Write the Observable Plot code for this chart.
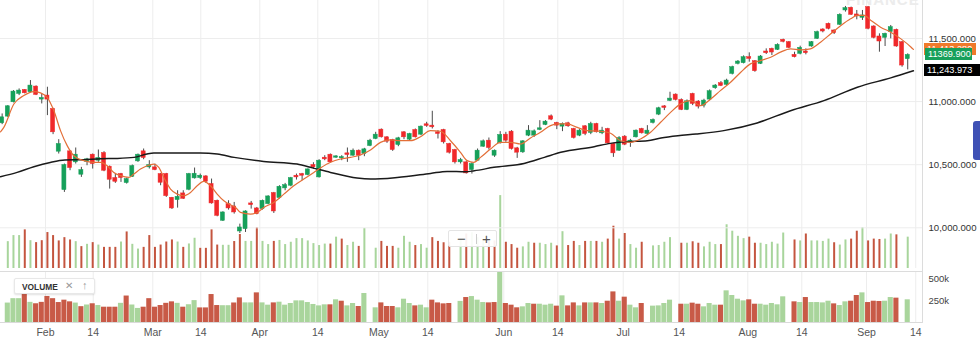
<!DOCTYPE html>
<html><head><meta charset="utf-8">
<script src="https://cdn.jsdelivr.net/npm/d3@7"></script>
<script src="https://cdn.jsdelivr.net/npm/@observablehq/plot@0.6"></script>
<style>
body{margin:0;background:#fff;}
#chart{position:relative;width:980px;height:352px;overflow:hidden;font-family:"Liberation Sans",Arial,sans-serif;}
#chart svg{position:absolute;left:0;}
.badge{position:absolute;height:12px;line-height:12px;font-size:9.2px;color:#fff;padding-left:3px;box-sizing:border-box;white-space:nowrap;overflow:hidden;}
.volpanel [aria-label^="y-axis"] text{font-size:9.5px;fill:#444;}
</style></head><body><div id="chart"></div>
<script>
// ---- data (NIFTY 50 daily, index = trading day) ----
const opens = [10828.0,10880.9,10994.7,11060.8,11092.6,11074.1,11119.0,11015.9,11047.6,10941.8,10603.1,10298.9,10605.8,10518.5,10420.6,10521.1,10579.3,10531.7,10592.5,10484.1,10394.1,10425.9,10354.4,10404.7,10526.4,10605.8,10478.8,10478.8,10425.9,10425.9,10238.0,10219.5,10272.4,10301.5,10391.5,10394.1,10407.3,10346.5,10214.2,10055.5,10187.7,10169.2,9970.8,9989.3,10193.0,10153.4,10148.1,10187.7,10275.1,10235.4,10312.1,10333.3,10412.6,10425.9,10418.0,10497.3,10399.4,10555.5,10579.3,10555.5,10550.2,10589.9,10571.4,10611.1,10584.6,10648.1,10703.7,10777.7,10716.9,10695.7,10656.0,10756.6,10698.4,10775.1,10738.1,10820.1,10809.5,10756.6,10775.1,10664.0,10616.4,10518.5,10518.5,10457.6,10531.7,10642.8,10690.4,10571.4,10669.3,10738.1,10761.9,10629.6,10597.8,10730.1,10730.1,10775.1,10814.8,10883.6,10830.7,10801.6,10828.0,10783.0,10730.1,10804.2,10751.3,10822.7,10748.6,10783.0,10664.0,10611.1,10722.2,10677.2,10716.9,10783.0,10743.3,10830.7,10896.8,10962.0,11005.3,11055.5,11013.2,10933.8,11060.8,11000.0,10968.2,11015.8,11105.8,11145.5,11132.3,11219.5,11298.9,11304.2,11351.8,11320.1,11298.9,11396.8,11418.0,11410.0,11489.4,11470.9,11370.4,11378.3,11396.8,11436.5,11497.3,11571.4,11616.4,11563.5,11608.5,11722.2,11743.4,11690.5,11664.0,11748.7,11595.2,11515.9,11505.3,11550.3,11568.8,11470.9,11336.0,11369.9];
const highs = [10902.1,10968.2,11087.3,11100.5,11095.2,11166.7,11124.3,11060.8,11113.7,10947.1,10698.4,10505.2,10611.1,10632.2,10478.8,10550.2,10584.6,10616.4,10603.1,10489.4,10425.9,10431.2,10394.1,10497.3,10584.6,10624.3,10531.7,10505.2,10431.2,10431.2,10240.7,10293.6,10293.6,10431.2,10473.5,10425.9,10412.6,10386.2,10219.5,10126.9,10214.2,10201.0,10029.0,10134.8,10208.9,10161.3,10219.5,10253.9,10280.4,10333.3,10351.8,10399.4,10425.9,10431.2,10465.5,10515.8,10539.6,10571.4,10584.6,10571.4,10571.4,10632.2,10624.3,10616.4,10629.6,10701.0,10756.6,10783.0,10722.2,10701.0,10716.9,10761.9,10748.6,10783.0,10806.8,10836.0,10923.3,10769.8,10780.4,10669.3,10621.6,10550.2,10523.8,10515.8,10624.3,10695.7,10711.6,10616.4,10761.9,10756.6,10769.8,10637.5,10690.4,10809.5,10775.1,10849.1,10849.1,10894.2,10836.0,10830.7,10836.0,10788.3,10777.7,10809.5,10836.0,10828.0,10796.3,10788.3,10669.3,10722.2,10730.1,10701.0,10775.1,10788.3,10809.5,10862.4,10955.0,10968.2,11074.1,11060.8,11021.2,11013.2,11066.1,11007.9,11018.5,11092.5,11134.9,11158.7,11177.2,11280.4,11325.4,11362.4,11386.2,11325.4,11365.1,11418.0,11423.3,11457.7,11494.7,11476.2,11391.5,11439.1,11418.0,11476.2,11558.2,11576.7,11621.7,11568.8,11695.8,11754.0,11748.7,11722.2,11722.2,11754.0,11600.5,11537.0,11542.3,11603.2,11574.1,11476.2,11378.3,11369.9];
const lows = [10817.4,10875.6,10989.4,11047.6,11060.8,11068.8,11047.6,10981.5,10888.9,10738.1,10584.6,10280.4,10452.3,10505.2,10399.4,10492.0,10465.5,10518.5,10444.4,10306.8,10351.8,10359.7,10346.5,10399.4,10518.5,10539.6,10465.5,10452.3,10333.3,10240.7,10145.4,10156.0,10224.8,10293.6,10386.2,10383.5,10351.8,10187.7,10087.2,10050.2,10140.1,10108.4,9955.0,9962.9,10148.1,10103.1,10140.1,10182.4,10113.6,10227.4,10293.6,10325.4,10378.3,10373.0,10412.6,10462.9,10394.1,10531.7,10513.2,10550.2,10531.7,10518.5,10566.1,10531.7,10563.4,10642.8,10698.4,10711.6,10669.3,10605.8,10642.8,10698.4,10690.4,10711.6,10730.1,10796.3,10783.0,10703.7,10664.0,10584.6,10505.2,10505.2,10425.9,10425.9,10526.4,10637.5,10616.4,10558.1,10664.0,10677.2,10616.4,10550.2,10589.9,10722.2,10716.9,10769.8,10809.5,10849.1,10777.7,10761.9,10796.3,10703.7,10722.2,10730.1,10738.1,10751.3,10738.1,10664.0,10558.1,10605.8,10650.8,10637.5,10711.6,10743.3,10735.4,10822.7,10888.9,10928.6,11000.0,11005.3,10928.6,10928.6,10968.2,10941.7,10949.7,11007.9,11097.8,11119.0,11124.3,11211.6,11291.0,11298.9,11312.1,11232.8,11293.6,11373.0,11365.1,11404.7,11465.6,11420.6,11346.5,11370.4,11370.4,11431.2,11492.1,11545.0,11568.8,11531.7,11603.2,11709.0,11682.5,11648.1,11642.9,11568.8,11497.3,11391.5,11436.5,11497.3,11431.2,11272.5,11251.3,11369.9];
const closes = [10875.6,10962.9,11079.3,11087.3,11066.1,11127.0,11052.9,11029.1,11015.9,10756.6,10664.0,10497.3,10473.5,10579.3,10457.6,10542.3,10505.2,10552.9,10452.3,10380.9,10365.0,10394.1,10386.2,10489.4,10579.3,10552.9,10497.3,10457.6,10357.1,10251.3,10153.4,10246.0,10230.1,10425.9,10428.5,10412.6,10365.0,10193.0,10095.2,10121.6,10153.4,10121.6,10002.6,10129.5,10179.8,10108.4,10214.2,10248.6,10129.5,10325.4,10338.6,10394.1,10399.4,10412.6,10462.9,10478.8,10531.7,10542.3,10518.5,10566.1,10560.8,10576.7,10611.1,10571.4,10621.6,10690.4,10738.1,10716.9,10682.5,10616.4,10709.0,10716.9,10743.3,10716.9,10801.6,10806.8,10796.3,10743.3,10677.2,10595.2,10518.5,10537.0,10431.2,10505.2,10611.1,10685.1,10632.2,10611.1,10735.4,10690.4,10624.3,10595.2,10685.1,10769.8,10764.5,10788.3,10841.2,10857.1,10809.5,10822.7,10804.2,10711.6,10769.8,10743.3,10822.7,10756.6,10769.8,10669.3,10589.9,10711.6,10658.7,10690.4,10769.8,10748.6,10769.8,10854.5,10947.1,10950.0,11023.8,11013.2,10933.8,11002.6,10981.5,10960.3,11007.9,11082.0,11127.0,11124.3,11166.6,11272.5,11317.4,11351.8,11338.6,11240.7,11357.1,11383.6,11388.9,11449.7,11473.5,11425.9,11351.8,11425.9,11383.6,11470.9,11550.3,11555.5,11576.7,11542.3,11687.8,11740.7,11687.8,11674.6,11682.5,11576.7,11505.3,11476.2,11537.0,11589.9,11436.5,11285.7,11369.9,11369.9];
// volume in thousands (null = no bar)
const volumes = [null,221,271,271,318,229,213,229,296,271,227,254,235,221,180,199,213,193,174,174,174,218,301,199,160,174,271,174,193,218,235,218,174,202,249,166,166,318,193,191,191,222,280,223,223,337,223,197,223,231,197,216,246,246,227,205,189,201,201,258,242,189,216,182,330,null,167,223,182,182,167,265,216,189,197,167,254,223,212,216,null,240,284,295,254,227,223,227,600,216,197,167,178,216,208,208,197,208,186,303,189,223,189,223,223,223,216,242,348,242,288,197,167,216,null,186,189,216,254,null,208,208,220,208,178,216,197,197,360,307,265,246,258,208,208,197,216,201,292,null,235,227,284,227,227,223,242,212,193,235,242,307,337,227,242,239,242,284,277,null,258,null];
// long moving average (black), read at trading-day positions
const longMaIdx = [-0.3,2.65,5.6,8.5,11.1,14.4,17.4,20.3,23.3,25.6,26.8,29.2,35.0,38.0,41.0,46.2,52.1,55.0,58.0,62.7,65.1,69.8,75.7,78.6,81.9,83.4,86.9,92.2,95.8,98.7,104.6,107.5,110.5,114.0,116.4,119.4,122.6,127.5,133.4,139.3,145.2,151.1,157.0,161];
const longMaVal = [10405,10439,10484,10518,10537,10540,10548,10550,10558,10585,10592,10592,10592,10585,10558,10526,10505,10473,10439,10394,10386,10399,10431,10447,10444,10452,10479,10510,10558,10598,10643,10669,10682,10690,10712,10730,10743,10770,10831,10928,11008,11114,11188,11243.973];
// short moving average (orange)
const shortMaIdx = [-0.29,0.3,2.07,3.83,5.6,6.78,7.95,9.13,10.31,11.49,12.67,14.43,16.2,17.38,18.55,19.73,20.91,22.38,23.27,24.44,25.62,26.8,27.68,28.57,29.75,30.92,32.1,33.28,34.46,35.63,36.81,37.99,39.17,40.35,41.23,42.1,43.88,45.05,46.23,48.0,49.77,51.53,53.3,55.07,56.25,58.02,59.78,61.55,63.32,65.08,66.85,68.62,70.38,72.15,73.92,75.68,77.45,79.22,80.98,82.16,83.34,84.52,86.28,88.05,89.82,91.58,93.35,95.12,96.89,98.07,99.83,101.6,103.37,105.73,107.5,109.26,111.03,112.8,114.57,116.34,118.1,119.87,121.64,123.4,125.2,126.9,128.7,130.5,132.2,134.0,135.8,137.5,139.3,141.1,142.8,144.6,146.4,148.2,149.9,151.1,152.3,153.5,155.2,157.0,158.8,160.6,161.0];
const shortMaVal = [10760,10796,10981,11048,11079,11069,11034,10929,10770,10651,10571,10532,10518,10518,10492,10439,10413,10399,10426,10465,10492,10505,10479,10399,10307,10267,10254,10280,10333,10368,10333,10267,10214,10182,10161,10122,10108,10122,10161,10201,10267,10333,10386,10439,10474,10519,10545,10558,10577,10616,10677,10696,10690,10690,10722,10770,10765,10690,10598,10532,10519,10558,10624,10677,10677,10664,10712,10757,10810,10823,10823,10796,10770,10765,10749,10690,10677,10704,10757,10836,10915,10982,11008,10968,11021,11087,11153,11233,11299,11325,11352,11392,11418,11410,11418,11471,11537,11603,11656,11683,11683,11643,11590,11550,11497,11431,11413.28];
const tickPos = [7.66,16.09,26.62,35.10,45.52,55.77,66.55,75.20,88.63,98.17,109.73,119.62,131.74,141.28,152.72,161.42];
const tickLabels = ["Feb","14","Mar","14","Apr","14","May","14","Jun","14","Jul","14","Aug","14","Sep","14"];
const priceTicks = [10000,10500,11000,11500];
const volTicks = [250,500];
const lastPrice = 11369.9;

// ---- build ----
const candles = opens.map((o, i) => ({
  i, open: o, high: highs[i], low: lows[i], close: closes[i], vol: volumes[i],
  dir: closes[i] > o ? "up" : closes[i] < o ? "down" : "flat",
  volUp: i === 0 ? true : closes[i] >= closes[i - 1]
}));
const volBars = candles.filter(d => d.vol != null);
const longMa = longMaIdx.map((i, k) => ({i, v: longMaVal[k]}));
const shortMa = shortMaIdx.map((i, k) => ({i, v: shortMaVal[k]}));
const tickLabelMap = new Map(tickPos.map((p, k) => [p, tickLabels[k]]));
const candleColor = {up: "#16a05a", down: "#f0282a", flat: "#666"};
const xDomain = [-0.29, 162.61];
const font = '"Liberation Sans", Arial, Helvetica, sans-serif';
const chart = document.getElementById("chart");

const overlay = Plot.plot({
  width: 980, height: 268, marginLeft: 0, marginRight: 58, marginTop: 0, marginBottom: 0,
  x: {domain: xDomain, axis: null},
  y: {domain: [0, 2206], axis: null},
  color: {type: "identity"},
  style: {background: "transparent", overflow: "visible"},
  marks: [
    Plot.ruleX(tickPos, {stroke: "#ededed"}),
    Plot.ruleX(volBars, {x: "i", y1: 0, y2: "vol", stroke: d => d.volUp ? "#a8d59c" : "#c4553f", strokeWidth: 2})
  ]
});
overlay.style.top = "0px";
chart.appendChild(overlay);

const price = Plot.plot({
  width: 980, height: 271, marginLeft: 0, marginRight: 58, marginTop: 0, marginBottom: 0,
  x: {domain: xDomain, axis: null},
  y: {domain: [9653.7, 11801.1], axis: "right", ticks: priceTicks, tickFormat: d3.format(",.3f"), tickSize: 0, tickPadding: 6, label: null},
  color: {type: "identity"},
  style: {background: "transparent", overflow: "visible", fontFamily: font, fontSize: "9.6px", color: "#333"},
  marks: [
    Plot.ruleY(priceTicks, {stroke: "#ededed"}),
    Plot.ruleX(candles, {x: "i", y1: "low", y2: "high", stroke: "#4a4a4a", strokeWidth: 1}),
    Plot.rect(candles, {x1: d => d.i - 0.36, x2: d => d.i + 0.36, y1: "open", y2: "close",
      fill: d => candleColor[d.dir], stroke: d => candleColor[d.dir], strokeWidth: 0.5}),
    Plot.line(longMa, {x: "i", y: "v", stroke: "#1a1a1a", strokeWidth: 1.5, curve: "monotone-x"}),
    Plot.line(shortMa, {x: "i", y: "v", stroke: "#e36f38", strokeWidth: 1.2, curve: "monotone-x"})
  ]
});
price.style.top = "0px";
chart.appendChild(price);

const volPanel = Plot.plot({
  width: 980, height: 81, marginLeft: 0, marginRight: 58, marginTop: 0, marginBottom: 30,
  x: {domain: xDomain, ticks: tickPos, tickFormat: d => tickLabelMap.get(d), tickSize: 0, tickPadding: 6, label: null},
  y: {domain: [0, 580], clamp: true, axis: "right", ticks: volTicks, tickFormat: d => d + "k", tickSize: 0, tickPadding: 6, label: null},
  color: {type: "identity"},
  style: {background: "transparent", overflow: "visible", fontFamily: font, fontSize: "10.5px", color: "#555"},
  marks: [
    Plot.ruleX(tickPos, {stroke: "#ededed"}),
    Plot.rect(volBars, {x1: d => d.i - 0.45, x2: d => d.i + 0.45, y1: 0, y2: "vol", fill: d => d.volUp ? "#a9d59c" : "#c85a47"}),
    Plot.ruleY([0], {stroke: "#dadada"})
  ]
});
volPanel.classList.add("volpanel");
volPanel.style.top = "271px";
chart.appendChild(volPanel);

// ---- HTML overlays ----
function div(css, html) {
  const d = document.createElement("div");
  d.style.cssText = "position:absolute;" + css;
  if (html != null) d.innerHTML = html;
  chart.appendChild(d);
  return d;
}
div("left:922px;top:0;width:1px;height:323px;background:#dcdcdc;");
div("left:0;top:271px;width:922px;height:1px;background:#dcdcdc;");

const ys = price.scale("y");
const yOf = ys.apply ? (v => ys.apply(v)) : d3.scaleLinear(ys.domain, ys.range);
const shortLast = shortMaVal[shortMaVal.length - 1];
const longLast = longMaVal[longMaVal.length - 1];
const b1 = div(`left:924px;top:${yOf(shortLast) - 6}px;width:52px;background:#f07a2a;`, d3.format(",.3f")(shortLast));
b1.className = "badge";
const b2 = div(`left:925px;top:${yOf(lastPrice) - 6}px;width:47px;background:#17a05a;`, d3.format(".3f")(lastPrice));
b2.className = "badge";
const b3 = div(`left:924px;top:${yOf(longLast) - 6}px;width:60px;background:#000;`, d3.format(",.3f")(longLast));
b3.className = "badge";

// VOLUME study label
div("left:14px;top:278px;width:81px;height:16px;background:#fff;border:1px solid #e8e8e8;border-radius:2px;box-shadow:0 1px 2px rgba(0,0,0,0.12);box-sizing:border-box;",
  '<span style="position:absolute;left:7px;top:3px;font-size:8.4px;font-weight:bold;color:#333;">VOLUME</span>' +
  '<span style="position:absolute;left:50px;top:1px;font-size:10px;color:#999;">&#x2715;</span>' +
  '<span style="position:absolute;left:67px;top:0px;font-size:11px;color:#999;">&#x2191;</span>');
// zoom buttons
div("left:448px;top:230px;width:49px;height:17px;background:rgba(255,255,255,0.92);border:1px solid #e4e4e4;border-radius:2px;box-sizing:border-box;",
  '<span style="position:absolute;left:8px;top:-1px;font-size:15px;color:#555;">&#x2212;</span>' +
  '<span style="position:absolute;left:27px;top:3px;width:1px;height:10px;background:#ccc;"></span>' +
  '<span style="position:absolute;left:33px;top:-1px;font-size:15px;color:#555;">+</span>');
// watermark
div("left:846px;top:-8px;font-size:15px;font-weight:bold;color:#ececec;letter-spacing:1px;line-height:15px;", "FINANCE");
// blue side tab
div("left:973px;top:121px;width:8px;height:39px;background:#3f51b5;border-radius:3px 0 0 3px;");
</script>
</body></html>
